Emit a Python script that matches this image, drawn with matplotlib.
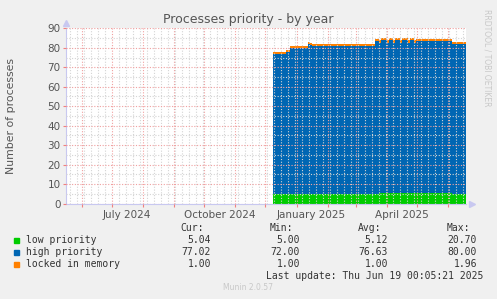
import numpy as np
import matplotlib
matplotlib.use("Agg")
import matplotlib.pyplot as plt
import matplotlib.dates as mdates

# step breakpoints (value holds until the next date)
dates = ["2024-12-08", "2024-12-21", "2024-12-25", "2025-01-12", "2025-01-14",
         "2025-01-16", "2025-03-20", "2025-03-24", "2025-03-26", "2025-04-01",
         "2025-04-03", "2025-04-07", "2025-04-09", "2025-04-14", "2025-04-16",
         "2025-04-22", "2025-04-24", "2025-04-28", "2025-04-30", "2025-05-02",
         "2025-06-05", "2025-06-19"]
low = [5.0, 5.0, 5.0, 5.0, 5.0, 5.0, 5.0, 5.2, 5.5, 5.3, 5.5, 5.3, 5.5, 5.3, 5.5,
       5.3, 5.5, 5.3, 5.5, 5.4, 5.04, 5.04]
high = [72.0, 73.0, 75.0, 77.0, 76.5, 76.0, 78.5, 77.2, 78.3, 77.2, 78.3, 77.2, 78.3,
        77.2, 78.3, 77.2, 78.3, 77.2, 78.0, 78.0, 77.02, 77.02]
locked = [1.0, 1.0, 1.0, 1.0, 1.0, 1.0, 1.0, 1.5, 1.0, 1.5, 1.0, 1.5, 1.0, 1.5, 1.0,
          1.5, 1.0, 1.5, 1.0, 1.0, 1.0, 1.0]

series_names = ["low priority", "high priority", "locked in memory"]
colors = ["#00cc00", "#0066b3", "#ff8000"]
stats = [["5.04", "5.00", "5.12", "20.70"],
         ["77.02", "72.00", "76.63", "80.00"],
         ["1.00", "1.00", "1.00", "1.96"]]
headers = ["Cur:", "Min:", "Avg:", "Max:"]
month_labels = ["July 2024", "October 2024", "January 2025", "April 2025"]
month_label_dates = ["2024-07-16", "2024-10-16", "2025-01-16", "2025-04-16"]

W, H = 497, 299
fig = plt.figure(figsize=(W / 100, H / 100), dpi=100, facecolor="#f0f0f0")
ax = fig.add_axes([66 / W, 1 - 203.5 / H, 400 / W, 175.2 / H], facecolor="white")

x = np.array(dates, dtype="datetime64[D]").astype("O")
x = mdates.date2num(x)
low = np.array(low)
high = np.array(high)
locked = np.array(locked)
b1 = low
b2 = low + high
b3 = b2 + locked
ax.fill_between(x, 0, b1, step="post", color=colors[0], lw=0, zorder=2)
ax.fill_between(x, b1, b2, step="post", color=colors[1], lw=0, zorder=2)
ax.fill_between(x, b2, b3, step="post", color=colors[2], lw=0, zorder=2)

x0 = mdates.datestr2num("2024-05-16")
x1 = mdates.datestr2num("2025-06-19")
ax.set_xlim(x0, x1)
ax.set_ylim(0, 90)

ax.xaxis.set_major_locator(mdates.MonthLocator())
ax.xaxis.set_minor_locator(mdates.WeekdayLocator(byweekday=mdates.MO))
ax.xaxis.set_major_formatter(plt.NullFormatter())
ax.set_yticks(np.arange(0, 91, 10))
ax.set_yticks(np.arange(5, 90, 10), minor=True)

ax.grid(which="minor", color="#d4d4d4", ls=(0, (1, 1.5)), lw=0.8, zorder=3)
ax.grid(which="major", color="#f0a0a0", ls=(0, (1, 1.5)), lw=0.8, zorder=3)
ax.set_axisbelow(False)

for s in ["top", "right"]:
    ax.spines[s].set_visible(False)
for s in ["left", "bottom"]:
    ax.spines[s].set_color("#c8c8f0")
    ax.spines[s].set_linewidth(0.8)
ax.tick_params(axis="x", which="major", length=2, color="#f08080", direction="out")
ax.tick_params(axis="x", which="minor", length=0)
ax.tick_params(axis="y", which="major", length=2, color="#f08080", labelsize=7.5,
               labelcolor="#555555", pad=2)
ax.tick_params(axis="y", which="minor", length=0)

for lbl, d in zip(month_labels, month_label_dates):
    ax.text(mdates.datestr2num(d), -3.5, lbl, ha="center", va="top", fontsize=7.5,
            color="#555555", clip_on=False)

# axis arrows
ax.plot([1.015], [0], marker=">", ms=4, color="#c8c8f0", transform=ax.transAxes, clip_on=False)
ax.plot([0], [1.03], marker="^", ms=4, color="#c8c8f0", transform=ax.transAxes, clip_on=False)

def px(xp, yp):
    return xp / W, 1 - yp / H

fig.text(*px(248, 19), "Processes priority - by year", ha="center", va="center",
         fontsize=9, color="#555555")
fig.text(*px(11, 116), "Number of processes", ha="center", va="center", rotation=90,
         fontsize=7.8, color="#555555")
fig.text(*px(487, 58), "RRDTOOL / TOBI OETIKER", ha="center", va="center", rotation=270,
         fontsize=5.5, color="#c8c8c8")

mono = dict(family="DejaVu Sans Mono", fontsize=7, color="#333333")
hdr_x = [204, 293, 381, 470]
val_x = [211, 300, 388, 477]
for h, hx in zip(headers, hdr_x):
    fig.text(*px(hx, 228), h, ha="right", va="center", **mono)
rows_y = [240, 252, 264]
for name, c, st, ry in zip(series_names, colors, stats, rows_y):
    fig.patches.append(plt.Rectangle(px(14, ry + 2.5), 5 / W, 5 / H, color=c,
                                     transform=fig.transFigure, figure=fig))
    fig.text(*px(26, ry), name, ha="left", va="center", **mono)
    for v, vx in zip(st, val_x):
        fig.text(*px(vx, ry), v, ha="right", va="center", **mono)
fig.text(*px(483, 276), "Last update: Thu Jun 19 00:05:21 2025", ha="right", va="center", **mono)
fig.text(*px(248, 288), "Munin 2.0.57", ha="center", va="center", fontsize=5.5, color="#c8c8c8")

fig.savefig("out.png", dpi=100, facecolor=fig.get_facecolor())
